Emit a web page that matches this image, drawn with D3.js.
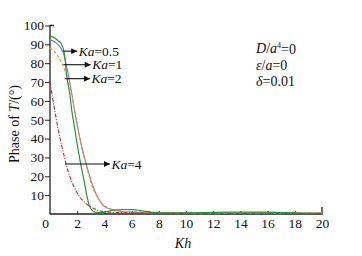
<!DOCTYPE html>
<html><head><meta charset="utf-8">
<script src="https://cdn.jsdelivr.net/npm/d3@7/dist/d3.min.js"></script>
<style>
body{margin:0;background:#fff;}
svg text{font-family:"Liberation Serif","Times New Roman","DejaVu Serif",serif;}
</style></head>
<body><svg id="c" width="362" height="256"></svg>
<script>
const xTicks = [0,2,4,6,8,10,12,14,16,18,20];
const yTicks = [10,20,30,40,50,60,70,80,90,100];

const khGreen = [0,0.3,0.6,0.85,1.0,1.1,1.2,1.3,1.45,1.6,1.8,2.07,2.3,2.55,2.7,2.85,3.0,3.3,3.6,4.0,4.5,5.0,5.5,6.0,6.5,7.0,7.5,8,10,12,14,16,17,18,19,20];
const vGreen  = [94.5,93.5,92,90,87,83,75,70,64,55,46,34,25,16,10,5.5,2.8,1.0,0.7,0.9,1.8,2.2,2.4,2.3,2.0,1.4,0.9,0.6,0.6,0.9,1.0,1.0,0.8,0.6,0.4,0.3];

const khPurple = [0,0.5,0.8,1.0,1.2,1.4,1.6,1.8,2.0,2.2,2.5,2.8,3.1,3.4,3.7,4.0,4.5,5,6,8,10,12,14,16,18,20];
const vPurple  = [92.5,90.5,88,85,79,72,64,55,47,40,31,23,16,10.5,6.5,4,2.5,1.6,1.0,0.6,0.5,0.5,0.5,0.5,0.5,0.5];

const khOrange = [0,0.3,0.6,0.9,1.2,1.5,1.8,2.0,2.24,2.5,2.8,3.04,3.4,3.77,4.2,4.7,5.2,6,7,8,10,12,14,16,18,20];
const vOrange  = [88,86.5,83.5,79.5,74,66,56,48,38,30,22,16,10,6,3.5,2,1.5,1.2,1.0,0.8,0.6,0.6,0.6,0.6,0.6,0.6];

const khRed = [0,0.2,0.4,0.6,0.8,1.0,1.2,1.5,1.8,2.1,2.5,2.9,3.3,3.7,4.2,5,6,8,10,12,14,16,18,20];
const vRed  = [70,61,53,45,38,32,26,19,14,10,6.5,4.2,2.7,1.6,1.0,0.8,0.6,0.4,0.3,0.3,0.3,0.3,0.3,0.3];

const seriesNames = ["Ka=0.5","Ka=1","Ka=2","Ka=4"];
const arrowFrom = [0.98,0.98,1.1,1.1];
const arrowTo   = [2.0,2.99,2.94,4.41];
const arrowAt   = [86.4,79.2,71.8,26.5];

const SERIF = "Liberation Serif, Times New Roman, DejaVu Serif, serif";
const svg = d3.select("#c").attr("font-family",SERIF);
const x = d3.scaleLinear().domain([0,20]).range([50,322]);
const y = d3.scaleLinear().domain([0,100]).range([214,25.5]);

// axes
const xAxis = d3.axisBottom(x).tickValues(xTicks).tickSize(-3).tickPadding(6).tickFormat(d3.format("d"));
const gx = svg.append("g").attr("transform","translate(0,"+y(0)+")").call(xAxis).attr("font-family",SERIF);
gx.select(".domain").attr("d","M"+x(0)+",0H"+x(20)+"V-7");
gx.selectAll(".tick line").filter(d=>d===0||d===20).remove();
gx.selectAll(".tick text").attr("font-size",13.5).attr("fill","#111").attr("dy","0.85em").attr("y",3);
gx.selectAll(".tick").filter(d=>d===0).select("text").attr("x",-5);

const yAxis = d3.axisLeft(y).tickValues(yTicks).tickSize(5).tickPadding(1);
const gy = svg.append("g").attr("transform","translate("+x(0)+",0)").call(yAxis).attr("font-family",SERIF);
gy.select(".domain").attr("d","M0,"+(y(0))+"V"+y(100)+"H4");
gy.selectAll(".tick text").attr("font-size",13.5).attr("fill","#111");
svg.selectAll(".domain").attr("stroke","#222").attr("stroke-width",1.3).attr("fill","none");
svg.selectAll(".tick line").attr("stroke","#222");

// curves
const line = d3.line().x(d=>x(d[0])).y(d=>y(d[1])).curve(d3.curveMonotoneX);
const zip = (a,b)=>a.map((v,i)=>[v,b[i]]);
const curves = [
  {d:zip(khPurple,vPurple), c:"#8c78a8", w:1.1, dash:null},
  {d:zip(khOrange,vOrange), c:"#e59a3c", w:1.2, dash:"3,2"},
  {d:zip(khGreen,vGreen),  c:"#23983a", w:1.2, dash:null},
  {d:zip(khRed,vRed),      c:"#d8203c", w:1.1, dash:"4,1.5,1,1.5"}
];
svg.append("g").selectAll("path").data(curves).join("path")
  .attr("d",c=>line(c.d)).attr("fill","none").attr("stroke",c=>c.c)
  .attr("stroke-width",c=>c.w).attr("stroke-dasharray",c=>c.dash);

// arrows & labels
svg.append("defs").append("marker").attr("id","ah").attr("viewBox","0 0 10 10")
  .attr("refX",10).attr("refY",5).attr("markerWidth",9).attr("markerHeight",6)
  .attr("markerUnits","userSpaceOnUse").attr("orient","auto")
  .append("path").attr("d","M0,0L10,5L0,10z").attr("fill","#111");
const ann = svg.append("g");
seriesNames.forEach((n,i)=>{
  ann.append("line").attr("x1",x(arrowFrom[i])).attr("x2",x(arrowTo[i]))
    .attr("y1",y(arrowAt[i])).attr("y2",y(arrowAt[i]))
    .attr("stroke","#111").attr("stroke-width",1.1).attr("marker-end","url(#ah)");
  const t = ann.append("text").attr("x",x(arrowTo[i])+1.5).attr("y",y(arrowAt[i])).attr("dy","0.33em")
    .attr("font-size",13.5).attr("fill","#111");
  const parts = n.split("=");
  t.append("tspan").attr("font-style","italic").text("Ka");
  t.append("tspan").text("="+parts[1]);
});

// parameter text
const params = svg.append("g").attr("font-size",14).attr("fill","#111");
const px = x(15.15);
let t1 = params.append("text").attr("x",px).attr("y",y(87.8)).attr("dy","0.35em");
t1.append("tspan").attr("font-style","italic").text("D");
t1.append("tspan").text("/");
t1.append("tspan").attr("font-style","italic").text("a");
t1.append("tspan").attr("font-size",8).attr("dy","-0.7em").text("4");
t1.append("tspan").attr("dy","0.45em").text("=0");
let t2 = params.append("text").attr("x",px).attr("y",y(78.8)).attr("dy","0.35em");
t2.append("tspan").attr("font-style","italic").text("ε");
t2.append("tspan").text("/");
t2.append("tspan").attr("font-style","italic").text("a");
t2.append("tspan").text("=0");
let t3 = params.append("text").attr("x",px).attr("y",y(70.4)).attr("dy","0.35em");
t3.append("tspan").attr("font-style","italic").text("δ");
t3.append("tspan").text("=0.01");

// axis titles
const yl = svg.append("text").attr("transform","translate(19,124) rotate(-90)")
  .attr("text-anchor","middle").attr("font-size",14).attr("fill","#111");
yl.append("tspan").text("Phase of ");
yl.append("tspan").attr("font-style","italic").text("T");
yl.append("tspan").text("/(°)");
svg.append("text").attr("x",183).attr("y",243).attr("dy","0.35em")
  .attr("text-anchor","middle").attr("font-size",14).attr("font-style","italic").attr("fill","#111").text("Kh");
</script></body></html>
